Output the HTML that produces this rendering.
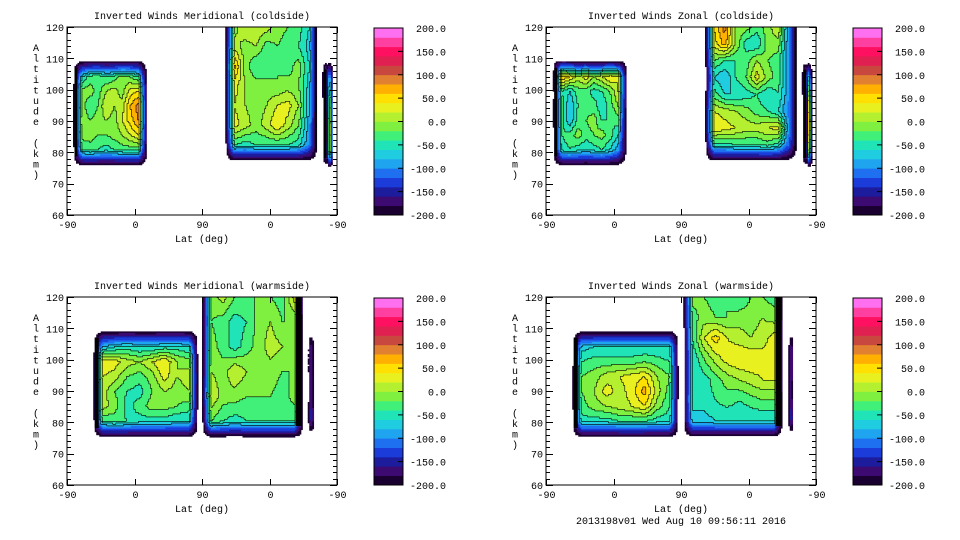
<!DOCTYPE html>
<html><head><meta charset="utf-8">
<style>
html,body{margin:0;padding:0;background:#fff;}
svg{display:block;}
text{font-family:"Liberation Mono",monospace;font-size:10px;fill:#000;}
</style></head>
<body>
<svg id="root" width="960" height="540" viewBox="0 0 960 540" xmlns="http://www.w3.org/2000/svg"></svg>
<script>
// ---- data: colorbar ----
const cbTicks = [200,150,100,50,0,-50,-100,-150,-200];
const cbLabels = ["200.0","150.0","100.0","50.0","0.0","-50.0","-100.0","-150.0","-200.0"];
const xTickLabels = ["-90","0","90","0","-90"];
const yTickValues = [60,70,80,90,100,110,120];
const palette = ["#1a0030","#3c0a70","#1c1c9c","#1b3cd8","#1f70f0","#1fa4f0","#20cce0","#20e4b8","#40f078","#80f040","#b4f030","#e8f020","#ffe000","#ffb000","#e08030","#c84840","#e02050","#ff1060","#ff40a0","#ff70f0"];

// ---- data: value grids (rows top->bottom, cols left->right) ----
const tlA = [[-60,-30,-20,-40,-30,-10,-20,-40],[-10,-10,-30,0,10,-10,30,40],[-10,-40,-20,20,0,10,60,90],[0,-20,-10,0,-10,20,50,80],[-10,-10,-20,-20,-10,0,20,40],[-40,-30,-40,-50,-40,-30,-30,-30]];
const tlB = [[-10,20,20,10,-10,-20,-30,-60],[10,-10,0,-30,-20,-30,-40,-70],[70,-10,-40,-40,-20,-30,-10,-60],[30,0,-10,-10,-20,-10,-20,-70],[20,0,-10,0,20,30,0,-80],[30,10,-10,10,40,10,-20,-90],[-40,-50,-40,-40,-40,-40,-50,-100]];
const tlC = [[-100,-150,-60],[-150,-150,20],[-180,-180,60],[-150,-150,40]];
const trA = [[60,40,10,30,0,20,40,20],[-40,-60,-30,-30,-50,-40,-20,20],[-30,-80,-40,-30,-30,-60,-30,0],[-30,-80,-30,-20,-10,-40,-40,-30],[-40,-30,-10,-30,-20,-10,-30,-60],[-50,-40,-50,-60,-50,-40,-60,-90]];
const trB = [[40,90,-10,-10,-30,-10,20,-100],[30,70,0,-50,-60,-10,-10,-100],[-20,-40,-40,-30,0,-20,-30,-100],[-60,-80,-40,-20,30,-10,-30,-100],[-30,-60,-60,-50,-40,-60,-40,-100],[20,10,0,-10,-30,-40,-60,-110],[40,30,20,10,10,20,30,-100],[-50,-50,-40,-40,-40,-30,-50,-120]];
const trC = [[-100,-120,-60],[-170,-170,60],[-180,-180,100],[-150,-150,20]];
const blA = [[-80,-60,-50,-60,-60,-50,-50,-60],[40,30,10,0,20,40,0,-10],[20,10,-20,-30,-10,30,0,10],[10,-20,-40,-50,-20,0,-10,0],[10,-10,-50,-30,-10,-10,-20,-30],[-40,-30,-40,-50,-50,-50,-60,-60]];
const blB = [[-10,10,-20,-20,-20,-20,-30,30],[-20,-30,-50,-40,-10,0,-20,-20],[-10,-30,-50,-30,-10,10,0,-10],[0,-10,20,0,-10,-10,-20,-20],[20,-10,-10,-20,-20,-20,-30,-10],[-20,-40,-50,-40,-40,-40,-40,-40]];
const blC = [[-170],[-170],[-180],[-150]];
const brA = [[-70,-60,-60,-60,-60,-60,-60,-60],[-40,-30,-30,-30,-30,-20,-30,-40],[-20,-10,10,20,30,40,0,-20],[-20,0,30,10,30,70,10,-30],[-30,-10,0,10,20,40,-10,-40],[-50,-50,-50,-40,-40,-40,-50,-50]];
const brB = [[-10,-20,-30,-20,-40,-20,-20,-30],[-30,-10,-20,-20,-10,-10,0,-10],[-40,20,50,20,10,0,10,30],[-60,-20,10,30,40,40,30,30],[-60,-50,-30,-10,0,10,20,20],[-50,-50,-40,-30,-40,-30,-20,-20],[-70,-70,-60,-60,-60,-60,-60,-60]];
const brC = [[-170],[-170],[-180],[-150]];

const titles = ["Inverted Winds Meridional (coldside)","Inverted Winds Zonal (coldside)","Inverted Winds Meridional (warmside)","Inverted Winds Zonal (warmside)"];

const NS="http://www.w3.org/2000/svg";
const root=document.getElementById('root');
function el(tag,attrs,parent){const e=document.createElementNS(NS,tag);for(const k in attrs)e.setAttribute(k,attrs[k]);(parent||root).appendChild(e);return e;}
function bandOf(v){if(v<-200)return -1;let i=Math.floor((v+200)/20);if(i<0)i=0;if(i>19)i=19;return i;}
function frac(p,W,e,C){
 if(C<=1){ if(p<e)return p/e; if(p>W-e)return 1+(p-(W-e))/e; return 1; }
 if(p<e)return p/e;
 if(p>W-e)return C+(p-(W-e))/e;
 return 1+(p-e)/(W-2*e)*(C-1);
}

const PW=270, PH=188;
const panels=[
 {L:67,T:27,regions:[{g:tlA,s0:8,s1:107,a0:109.5,a1:75.5,bl:3},{g:tlB,s0:211,s1:335,a0:125.5,a1:77,br:2},{g:tlC,s0:340,s1:355,a0:109,a1:75,bl:3}]},
 {L:546,T:27,regions:[{g:trA,s0:9,s1:108,a0:109.5,a1:75.5,bl:3},{g:trB,s0:212,s1:336,a0:125.5,a1:77,br:2},{g:trC,s0:341,s1:355,a0:109,a1:75,bl:3}]},
 {L:67,T:297,regions:[{g:blA,s0:35,s1:175,a0:109.5,a1:75,bl:4},{g:blB,s0:180,s1:315,a0:125.5,a1:75,br:6},{g:blC,s0:321,s1:330,a0:109,a1:76}]},
 {L:546,T:297,regions:[{g:brA,s0:35,s1:177,a0:109.5,a1:75,bl:4},{g:brB,s0:183,s1:316,a0:125.5,a1:75,br:6},{g:brC,s0:323,s1:330,a0:109,a1:76}]}
];

panels.forEach((p,pi)=>{
 const xS=s=>p.L+s*PW/360;
 const yA=a=>p.T+(120-a)/60*PH;
 const pg=el('g',{});
 el('text',{x:p.L+PW/2,y:p.T-8,'text-anchor':'middle'},pg).textContent=titles[pi];
 const clip=el('clipPath',{id:'clip'+pi},pg);
 el('rect',{x:p.L,y:p.T,width:PW,height:PH},clip);
 const field=el('g',{'clip-path':'url(#clip'+pi+')'},pg);
 
 
 p.regions.forEach((r,ri)=>{
  const R=r.g.length, C=r.g[0].length;
  const G=[];for(let i=0;i<R+2;i++){const row=[];for(let j=0;j<C+2;j++){row.push(i==0||j==0||i==R+1||j==C+1?-215:r.g[i-1][j-1]);}G.push(row);}
  const x0=xS(r.s0),x1=xS(r.s1),y0=yA(r.a0),y1=yA(r.a1);
  const W=x1-x0,H=y1-y0,step=1.5;
  const ex=Math.min(9,W/3), ey=17;
  const nx=Math.ceil(W/step), ny=Math.ceil(H/step);
  const B=[];
  for(let yi=0;yi<ny;yi++){
   const fy=frac((yi+0.5)*step,H,ey,R);
   const iy=Math.min(Math.floor(fy),R),ty=fy-iy;
   const row=[];
   for(let xi=0;xi<nx;xi++){
    const fx=frac((xi+0.5)*step,W,ex,C);
    const ix=Math.min(Math.floor(fx),C),tx=fx-ix;
    const v=G[iy][ix]*(1-tx)*(1-ty)+G[iy][ix+1]*tx*(1-ty)+G[iy+1][ix]*(1-tx)*ty+G[iy+1][ix+1]*tx*ty;
    row.push(bandOf(v));
   }
   B.push(row);
  }
  const rg=el('g',{},field);
  
  
  let d='';
  for(let yi=0;yi<ny;yi++){
   let start=0,cur=B[yi][0];
   for(let xi=1;xi<=nx;xi++){
    const b=xi<nx?B[yi][xi]:-2;
    if(b!==cur){
     if(cur>=0){el('rect',{x:(x0+start*step).toFixed(2),y:(y0+yi*step).toFixed(2),width:((xi-start)*step+0.3).toFixed(2),height:step+0.3,fill:palette[cur]},rg);}
     start=xi;cur=b;
    }
   }
   for(let xi=0;xi<nx;xi++){
    const b=B[yi][xi]; if(b<0)continue;
    if(xi+1<nx){const c=B[yi][xi+1];if(c>=0&&c!==b&&Math.max(b,c)>=6){const X=(x0+(xi+1)*step).toFixed(1);d+='M'+X+' '+(y0+yi*step).toFixed(1)+'v'+step;}}
    if(yi+1<ny){const c=B[yi+1][xi];if(c>=0&&c!==b&&Math.max(b,c)>=6){const Y=(y0+(yi+1)*step).toFixed(1);d+='M'+(x0+xi*step).toFixed(1)+' '+Y+'h'+step;}}
   }
  }
  const cl=el('path',{d:d,stroke:'#000','stroke-width':0.6,fill:'none'},rg);
  
  
  if(r.bl){el('rect',{x:x0+1.5,y:y0+8,width:r.bl,height:H-18,fill:'#000'},rg);}
  if(r.br){el('rect',{x:x1-r.br-1.5,y:y0,width:r.br,height:H-12,fill:'#000'},rg);}
 });
 const ax=el('g',{},pg);
 el('rect',{x:p.L,y:p.T,width:PW,height:PH,fill:'none',stroke:'#000','stroke-width':1},ax);
 for(let a=60;a<=120;a+=2){
  const y=Math.round(yA(a))+0.5;const len=(a%10==0)?7:4;
  el('line',{x1:p.L,y1:y,x2:p.L+len,y2:y,stroke:'#000'},ax);
  el('line',{x1:p.L+PW,y1:y,x2:p.L+PW-len,y2:y,stroke:'#000'},ax);
 }
 yTickValues.forEach(a=>{const t=el('text',{x:p.L-3,y:yA(a)+4,'text-anchor':'end'},ax);t.textContent=a;});
 xTickLabels.forEach((lb,i)=>{const x=Math.round(xS(i*90))+0.5;
  el('line',{x1:x,y1:p.T+PH,x2:x,y2:p.T+PH-6,stroke:'#000'},ax);
  el('line',{x1:x,y1:p.T,x2:x,y2:p.T+6,stroke:'#000'},ax);
  const t=el('text',{x:x,y:p.T+PH+13,'text-anchor':'middle'},ax);t.textContent=lb;});
 const xt=el('text',{x:p.L+PW/2,y:p.T+PH+27,'text-anchor':'middle'},ax);xt.textContent="Lat (deg)";
 
 const yt=el('text',{x:p.L-31,y:p.T+24,'text-anchor':'middle'},ax);
 
 "Altitude (km)".split("").forEach((ch,i)=>{const ts=el('tspan',{x:p.L-31,y:p.T+24+i*10.6},yt);ts.textContent=ch;});
 const cbx=p.L+307, cby=p.T+1, cbw=29, cbh=187;
 const cb=el('g',{},pg);
 palette.forEach((c,i)=>{const h=cbh/20;el('rect',{x:cbx,y:cby+cbh-(i+1)*h,width:cbw,height:h+0.4,fill:c},cb);});
 el('rect',{x:cbx,y:cby,width:cbw,height:cbh,fill:'none',stroke:'#000'},cb);
 cbTicks.forEach((v,i)=>{const y=cby+(200-v)/400*cbh;
  el('line',{x1:cbx+cbw-5,y1:y,x2:cbx+cbw,y2:y,stroke:'#000'},cb);
  const t=el('text',{x:cbx+cbw+43,y:y+4,'text-anchor':'end'},cb);t.textContent=cbLabels[i];
  });
});
const ft=el('text',{x:681,y:524,'text-anchor':'middle'});ft.textContent="2013198v01 Wed Aug 10 09:56:11 2016";

</script>
</body></html>
